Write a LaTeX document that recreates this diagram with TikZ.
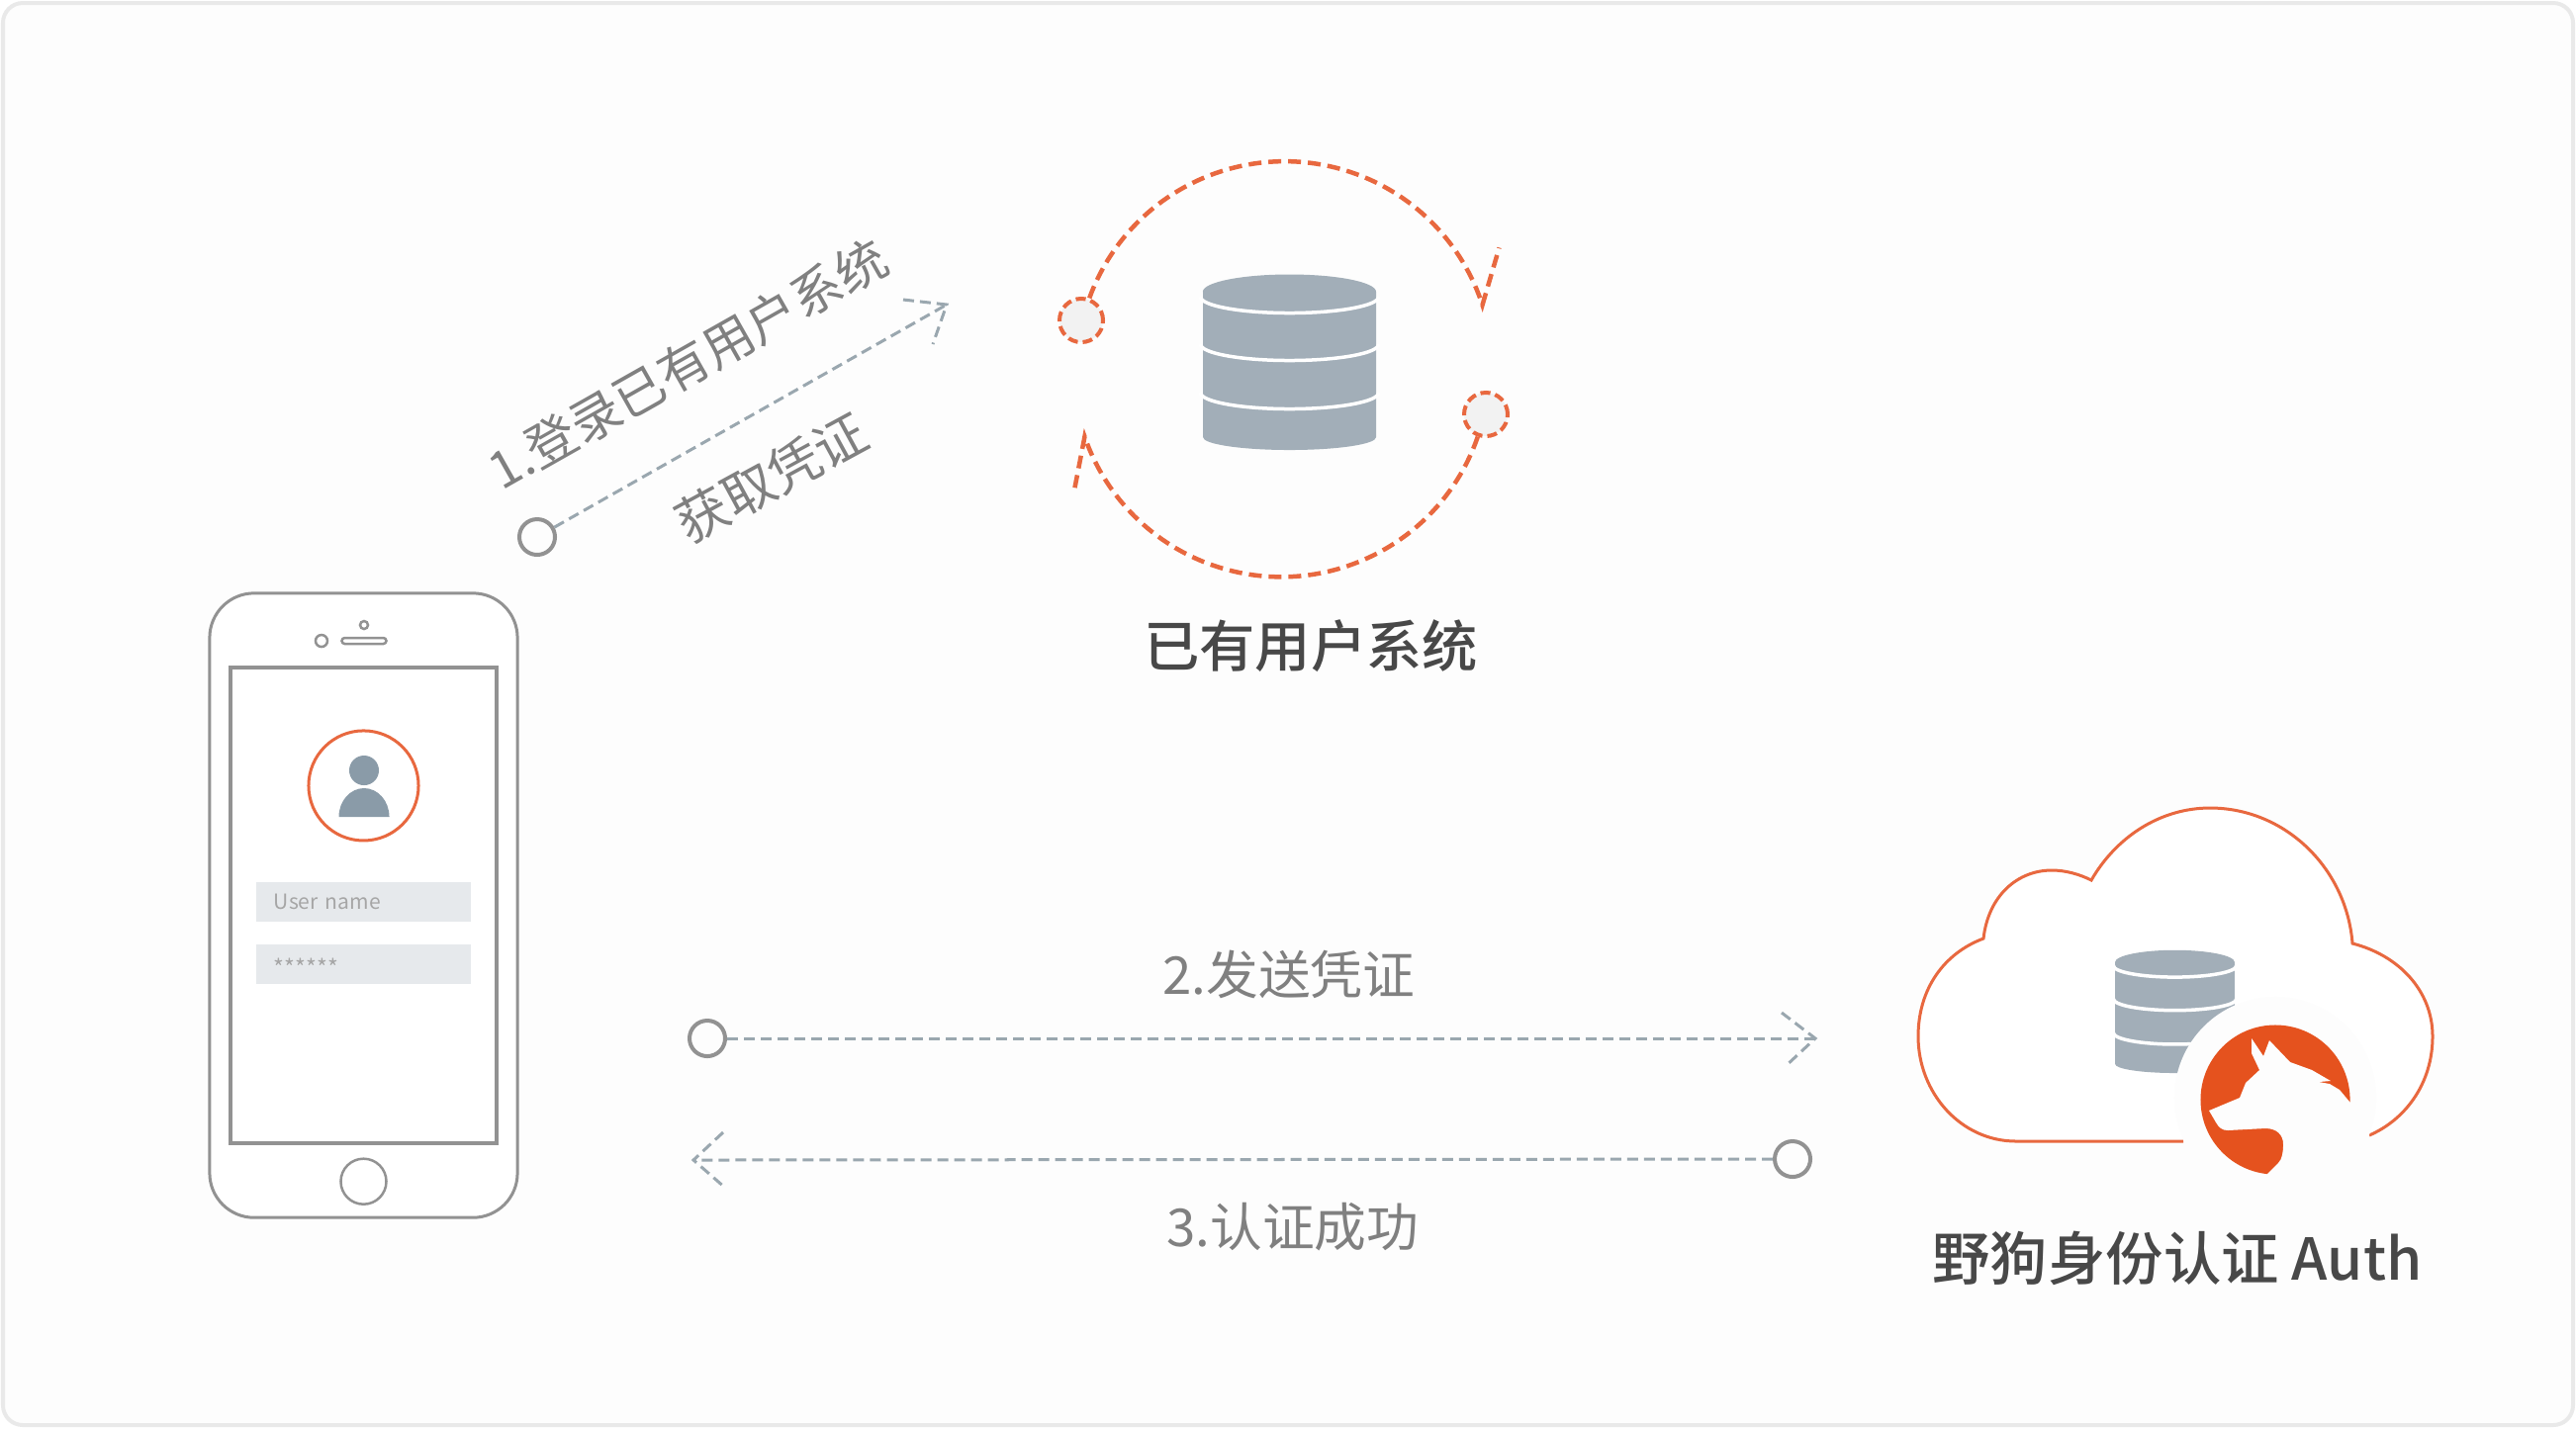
\documentclass[tikz,border=0pt]{standalone}
\usepackage{fontspec}
\setmainfont{Noto Sans CJK SC}
\newfontfamily\headfont{Noto Sans CJK SC Medium}
\usepackage{tikz}
\usetikzlibrary{shapes.misc}
\definecolor{pagebg}{HTML}{FDFDFD}
\definecolor{pageline}{HTML}{E9E9E9}
\definecolor{phoneline}{HTML}{929292}
\definecolor{slategrey}{HTML}{8A9BA8}
\definecolor{dbgrey}{HTML}{A2AEB8}
\definecolor{fieldgrey}{HTML}{E6E9EC}
\definecolor{dashgrey}{HTML}{9AA7AF}
\definecolor{labelgrey}{HTML}{808080}
\definecolor{headgrey}{HTML}{484848}
\definecolor{wildorange}{HTML}{E5521E}
\definecolor{lineorange}{HTML}{E8683F}
\tikzset{
    dbstack/.pic={
        \fill[dbgrey] (-87.5,0) -- (-87.5,147) arc[start angle=180, end angle=360, x radius=.875cm, y radius=.13cm]
            -- (87.5,0) arc[start angle=0, end angle=180, x radius=.875cm, y radius=.175cm] -- cycle;
        \foreach \sepy in {5,53,102}
            \draw[white, line width=.035cm] (-90,\sepy) arc[start angle=180, end angle=360, x radius=.9cm, y radius=.165cm];
    }
}
\begin{document}
\begin{tikzpicture}[x=.01cm, y=-.01cm,
    phonebody/.style={draw=phoneline, rectangle, fill=white, line width=.03cm},
    phonedot/.style={draw=phoneline, circle, inner sep=0pt, line width=.025cm},
    fieldbox/.style={fill=fieldgrey, rectangle, minimum height=.4cm, text width=1.81cm, inner xsep=.18cm, inner ysep=0pt, text=black!35, align=left},
    portdot/.style={draw=phoneline, circle, fill=pagebg, minimum size=.36cm, inner sep=0pt, line width=.04cm},
    loopdot/.style={draw=lineorange, circle, fill=black!5, minimum size=.44cm, inner sep=0pt, line width=.04cm, dash pattern=on .1cm off .05cm},
    greydash/.style={draw=dashgrey, line width=.03cm, dash pattern=on .11cm off .06cm},
    orangedash/.style={draw=lineorange, line width=.045cm, dash pattern=on .13cm off .07cm},
    steplabel/.style={text=labelgrey, inner sep=0pt, font=\fontsize{15}{15}\selectfont},
    headlabel/.style={text=headgrey, inner sep=0pt, font=\headfont\fontsize{16}{16}\selectfont}]
    \useasboundingbox (0,0) rectangle (2604,1444);
    \draw[draw=pageline, fill=pagebg, line width=.04cm, rounded corners=.2cm] (3,3) rectangle (2601,1441);

    % phone
    \node[phonebody, rounded corners=.45cm, minimum width=3.11cm, minimum height=6.31cm] (phone) at (367.5,915.5) {};
    \node[phonebody, line width=.04cm, minimum width=2.69cm, minimum height=4.81cm] (screen) at (phone) {};
    \node[phonedot, minimum size=.46cm, below of=screen, node distance=2.79cm] (home) {};
    \node[phonedot, minimum size=.12cm] (camera) at (325,648) {};
    \node[phonedot, minimum size=.08cm] (sensor) at (368,632) {};
    \node[draw=phoneline, rounded rectangle, minimum width=.45cm, minimum height=.06cm, inner sep=0pt, line width=.025cm] (speaker) at (368,648) {};
    \node[draw=lineorange, circle, minimum size=1.11cm, inner sep=0pt, line width=.03cm, above of=screen, node distance=1.21cm] (avatar) {};
    \node[fill=slategrey, circle, minimum size=.3cm, inner sep=0pt] (head) at (368,779) {};
    \fill[slategrey] (342.5,826) arc[start angle=180, end angle=0, x radius=.255cm, y radius=.29cm] -- cycle;
    \node[fieldbox, below of=avatar, node distance=1.17cm, font=\fontsize{6}{7}\selectfont] (userfield) {User name};
    \node[fieldbox, below of=userfield, node distance=.63cm, font=\fontsize{6.6}{7}\selectfont] (passfield) {\smash{\raisebox{-.13cm}{******}}};

    % login to the existing system
    \node[portdot] (login) at (543,543) {};
    \coordinate (logintip) at (957,308);
    \draw[greydash] (login) -- (logintip);
    \draw[greydash] (913,303) -- (logintip) -- (943,348);
    \node[steplabel, rotate=29.5, font=\fontsize{14.6}{15}\selectfont] (loginlabel) at (695,368) {1.登录已有用户系统};
    \node[steplabel, rotate=28.5] (tokenlabel) at (780,483) {获取凭证};

    % existing system
    \pic (dbmain) at (1303.5,295) {dbstack};
    \node[loopdot] (loopa) at (1093,324) {};
    \node[loopdot] (loopb) at (1502,419) {};
    \draw[orangedash] (loopa.70) arc[start angle=160, end angle=18, radius=2.1cm] coordinate (loopatip) -- ++(17,-58);
    \draw[orangedash] (loopb.250) arc[start angle=-19, end angle=-161, radius=2.1cm] coordinate (loopbtip) -- ++(-11,57);
    \node[headlabel] (dbname) at (1325,653) {已有用户系统};

    % credentials
    \node[portdot] (send) at (715,1050) {};
    \coordinate (sendtip) at (1835,1050);
    \draw[greydash] (send) -- (sendtip);
    \draw[greydash] (1801,1024) -- (sendtip) -- (1805,1078);
    \node[steplabel] (sendlabel) at (1303,985) {2.发送凭证};
    \node[portdot] (reply) at (1812,1172) {};
    \coordinate (replytip) at (701,1173);
    \draw[greydash] (reply) -- (replytip);
    \draw[greydash] (731,1145) -- (replytip) -- (733,1201);
    \node[steplabel] (replylabel) at (1307,1241) {3.认证成功};

    % auth cloud
    \draw[draw=lineorange, fill=white, line width=.03cm] (2207,1154) -- (2038,1154)
        .. controls (1982,1154) and (1939,1105) .. (1939,1048)
        .. controls (1939,1000) and (1965,964) .. (2005,949)
        .. controls (2010,905) and (2040,880) .. (2074,880)
        .. controls (2088,880) and (2102,884) .. (2114,890)
        .. controls (2140,845) and (2185,817) .. (2234,817)
        .. controls (2310,817) and (2372,878) .. (2378,954)
        .. controls (2425,966) and (2459,1002) .. (2459,1048)
        .. controls (2459,1095) and (2432,1132) .. (2395,1148);
    \pic[xscale=.69, yscale=.7] (dbauth) at (2198.5,973) {dbstack};
    \node[fill=pagebg, circle, minimum size=2.04cm, inner sep=0pt] (halo) at (2300,1110) {};
    \node[fill=wildorange, circle, minimum size=1.51cm, inner sep=0pt] (logo) at (2300,1112) {};
    \fill[pagebg] (2375,1114) -- (2365,1102) -- (2355,1096) -- (2344,1094) -- (2356,1093) -- (2337,1082) -- (2315,1074)
        -- (2294,1052) -- (2288,1068) -- (2276,1050) -- (2276,1065) -- (2284,1082) -- (2270,1095) -- (2264,1110)
        -- (2233,1123) -- (2240,1135) .. controls (2243,1140) and (2246,1143) .. (2252,1143)
        -- (2290,1141) .. controls (2302,1141) and (2308,1148) .. (2308,1157)
        .. controls (2308,1165) and (2307,1172) .. (2303,1176) -- (2292,1187)
        -- (2292,1194) -- (2350,1194) -- (2392,1130) -- cycle;
    \node[headlabel, font=\headfont\fontsize{16.6}{17}\selectfont] (authname) at (2201,1272) {野狗身份认证 Auth};
\end{tikzpicture}
\end{document}
